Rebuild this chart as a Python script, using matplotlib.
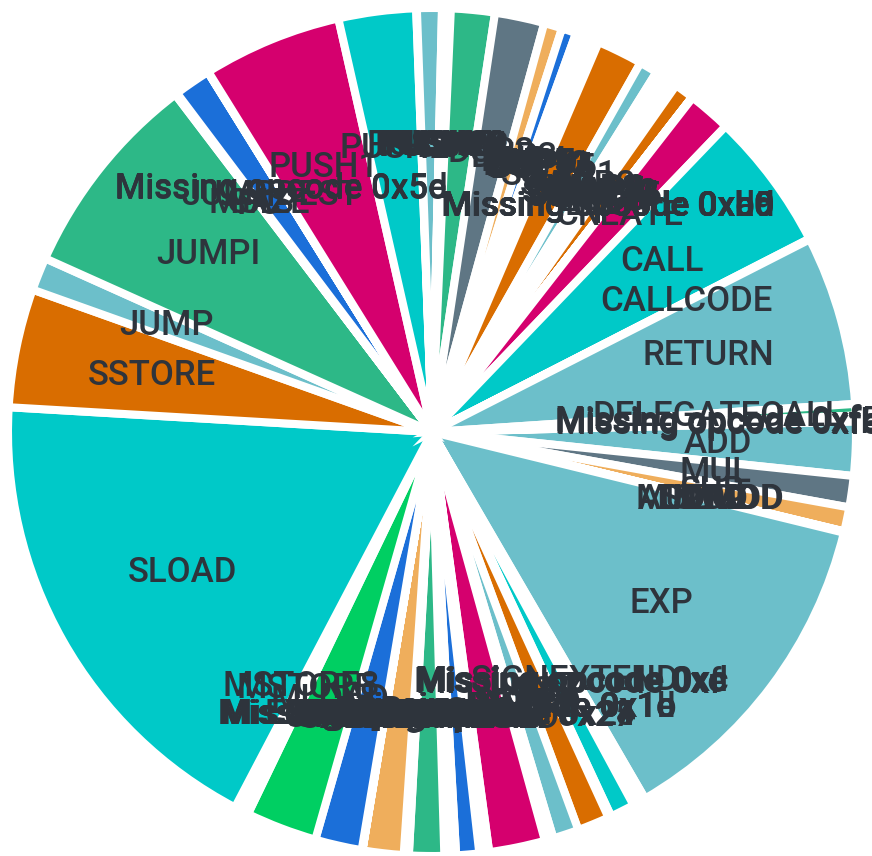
import matplotlib
matplotlib.use("Agg")
from matplotlib import pyplot as plt

# opcodes in clockwise order, starting just above 3 o'clock
opcodes = ["ADD", "MUL", "SUB", "DIV", "SDIV", "MOD", "SMOD", "ADDMOD", "MULMOD", "EXP",
           "SIGNEXTEND", "Missing opcode 0xc", "Missing opcode 0xd", "Missing opcode 0xe", "Missing opcode 0xf",
           "LT", "GT", "SLT", "SGT", "EQ", "ISZERO", "AND", "OR", "XOR", "NOT", "BYTE",
           "Missing opcode 0x1b", "Missing opcode 0x1c", "Missing opcode 0x1d", "Missing opcode 0x1e",
           "SHA3", "Missing opcode 0x21", "Missing opcode 0x24", "Missing opcode 0x25", "Missing opcode 0x27",
           "ADDRESS", "BALANCE", "ORIGIN", "CALLER", "CALLVALUE", "CALLDATALOAD", "CALLDATASIZE",
           "CALLDATACOPY", "CODESIZE", "CODECOPY", "GASPRICE", "EXTCODESIZE", "EXTCODECOPY",
           "Missing opcode 0x3d", "Missing opcode 0x3f",
           "BLOCKHASH", "COINBASE", "TIMESTAMP", "NUMBER", "DIFFICULTY", "GASLIMIT",
           "Missing opcode 0x46", "Missing opcode 0x4b",
           "POP", "MLOAD", "MSTORE", "MSTORE8", "SLOAD", "SSTORE", "JUMP", "JUMPI",
           "PC", "MSIZE", "GAS", "JUMPDEST", "Missing opcode 0x5c", "Missing opcode 0x5d", "Missing opcode 0x5e",
           "PUSH1", "PUSH2", "PUSH3", "PUSH4", "PUSH5", "PUSH6", "PUSH8", "PUSH10", "PUSH12",
           "PUSH16", "PUSH20", "PUSH24", "PUSH29", "PUSH32",
           "DUP1", "DUP2", "DUP3", "DUP4", "DUP5", "DUP6", "DUP7", "DUP8", "DUP9", "DUP10",
           "DUP11", "DUP12", "DUP13", "DUP14", "DUP15", "DUP16",
           "SWAP1", "SWAP2", "SWAP3", "SWAP4", "SWAP5", "SWAP6", "SWAP7", "SWAP8", "SWAP9",
           "SWAP10", "SWAP11", "SWAP12", "SWAP13", "SWAP14", "SWAP15", "SWAP16",
           "LOG0", "LOG1", "LOG2", "LOG3", "LOG4",
           "Missing opcode 0xa5", "Missing opcode 0xa9", "Missing opcode 0xb0",
           "Missing opcode 0xbd", "Missing opcode 0xc0", "Missing opcode 0xd0",
           "CREATE", "CALL", "CALLCODE", "RETURN", "DELEGATECALL",
           "Missing opcode 0xf5", "Missing opcode 0xfa", "Missing opcode 0xfb", "Missing opcode 0xfe"]

# share of gas (in degrees of the pie)
gas_share = [7.39, 4.29, 3.31, 0.03, 0.03, 0.03, 0.03, 0.03, 0.03, 46.1,
             0.5, 0.3, 0.3, 0.3, 0.39,
             3.38, 0.2, 0.05, 0.15, 4.4, 3.56, 0.3, 0.1, 0.1, 0.1, 0.2,
             0.1, 0.1, 0.1, 0.09,
             7.69, 0.2, 0.2, 0.2, 0.2,
             0.55, 3.14, 0.4, 0.6, 0.6, 4.8, 0.2,
             0.2, 0.1, 0.1, 0.1, 5.61, 0.01,
             0.01, 0.01,
             0.01, 0.01, 0.01, 0.01, 0.01, 0.01,
             0.01, 0.01,
             6.42, 9.75, 1.0, 0.97, 65.66, 16.27, 4.56, 28.56,
             0.1, 0.05, 0.15, 5.05, 0.03, 0.03, 0.02,
             19.07, 10.62, 0.1, 3.4, 0.1, 0.1, 0.1, 0.1, 0.1,
             0.1, 0.2, 0.1, 0.1, 0.2,
             6.0, 6.8, 2.5, 2.0, 0.275, 0.275, 0.275, 0.275, 0.275, 0.275,
             0.275, 0.275, 0.275, 0.275, 0.275, 0.275,
             6.3, 2.5, 0.2, 0.2, 0.2, 0.2, 0.2, 0.2, 0.2,
             0.2, 0.2, 0.2, 0.2, 0.2, 0.2, 0.2,
             0.1, 0.2, 0.1, 2.68, 0.02,
             0.015, 0.015, 0.015,
             0.015, 0.015, 0.015,
             5.9, 19.04, 0.1, 23.22, 1.58,
             0.2, 0.2, 0.2, 0.19]

teal = "#00c9c8"
light_teal = "#6cbfca"
green = "#2db887"
gray = "#5f7684"
light_orange = "#efae5c"
blue = "#1b6fd9"
orange = "#d96d00"
magenta = "#d5006e"
bright_green = "#00cf62"

slice_colors = {
    "ADD": light_teal, "MUL": gray, "SUB": light_orange, "EXP": light_teal,
    "LT": teal, "EQ": orange, "ISZERO": light_teal, "SHA3": magenta,
    "BALANCE": blue, "CALLDATALOAD": green, "EXTCODESIZE": light_orange, "POP": blue,
    "MLOAD": bright_green, "SLOAD": teal, "SSTORE": orange, "JUMP": light_teal,
    "JUMPI": green, "JUMPDEST": blue, "PUSH1": magenta, "PUSH2": teal,
    "PUSH4": light_teal, "DUP1": green, "DUP2": gray, "DUP3": light_orange,
    "DUP4": blue, "SWAP1": orange, "SWAP2": light_teal, "LOG3": orange,
    "CREATE": magenta, "CALL": teal, "RETURN": light_teal, "DELEGATECALL": green,
}
colors = [slice_colors.get(op, light_teal) for op in opcodes]

fig = plt.figure(figsize=(8.72, 8.56), dpi=100)
ax = fig.add_axes([0, 0, 1, 1])

wedges, texts = ax.pie(gas_share, labels=opcodes, colors=colors,
                       startangle=1.43, counterclock=False,
                       labeldistance=0.675,
                       wedgeprops=dict(edgecolor="white", linewidth=5.8),
                       textprops=dict(fontsize=25, color="#2e343c",
                                      family="Roboto", fontweight="medium"))
for t in texts:
    t.set_horizontalalignment("center")

# centre of the pie sits at (432, 432) px, radius 424 px
ax.set_aspect("auto")
ax.set_xlim(-432 / 424, 440 / 424)
ax.set_ylim(-424 / 424, 432 / 424)
ax.axis("off")

fig.savefig("out.png", dpi=100)
